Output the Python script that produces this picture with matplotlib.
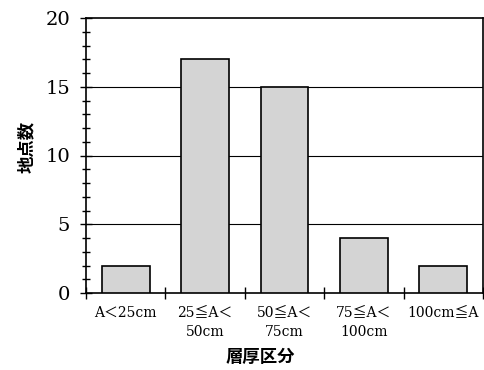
import matplotlib
matplotlib.use('Agg')
import matplotlib.pyplot as plt
from matplotlib.ticker import MultipleLocator, FixedLocator

categories = ['A＜25cm', '25≦A＜\n50cm', '50≦A＜\n75cm', '75≦A＜\n100cm', '100cm≦A']
counts = [2, 17, 15, 4, 2]

serif = ['DejaVu Serif', 'Noto Sans CJK JP']
cjk = ['Noto Sans CJK JP', 'DejaVu Sans']

fig = plt.figure(figsize=(4.84, 3.70), dpi=100)
ax = fig.add_axes([86/484, 1 - 293/370, 397/484, 275/370])

x = list(range(len(categories)))
ax.bar(x, counts, width=0.6, color='#d4d4d4', edgecolor='black', linewidth=1.2, zorder=3)

ax.set_xlim(-0.5, len(categories) - 0.5)
ax.set_ylim(0, 20)
for y in [5, 10, 15]:
    ax.axhline(y, color='black', linewidth=0.8, zorder=1)

ax.yaxis.set_major_locator(MultipleLocator(5))
ax.yaxis.set_minor_locator(MultipleLocator(1))
ax.tick_params(axis='y', which='major', direction='inout', length=9, width=1, pad=7)
ax.tick_params(axis='y', which='minor', direction='inout', length=6, width=1)
for lab in ax.get_yticklabels():
    lab.set_family(serif)
    lab.set_fontsize(14)

# x ticks at category boundaries, labels under the bars
ax.xaxis.set_major_locator(FixedLocator([i - 0.5 for i in range(len(categories) + 1)]))
ax.xaxis.set_minor_locator(FixedLocator(x))
ax.set_xticklabels([])
ax.set_xticklabels(categories, minor=True)
ax.tick_params(axis='x', which='major', direction='inout', length=9, width=1)
ax.tick_params(axis='x', which='minor', length=0, pad=9)
for lab in ax.get_xticklabels(minor=True):
    lab.set_family(serif)
    lab.set_fontsize(10)
    lab.set_linespacing(1.5)

for s in ax.spines.values():
    s.set_linewidth(1.2)

fig.text(260/484, 1 - 357/370, '層厚区分', family=cjk, fontsize=12.5, fontweight='bold',
         ha='center', va='center')
fig.text(27/484, 1 - 147/370, '地点数', family=cjk, fontsize=12.5, fontweight='bold',
         ha='center', va='center', rotation=90)

fig.savefig('out.png', dpi=100)
